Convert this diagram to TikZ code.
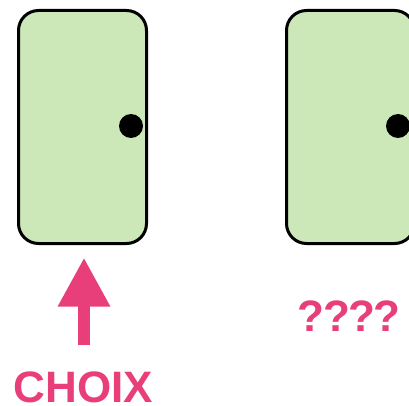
\documentclass[tikz,border=0pt]{standalone}
\usepackage{fontspec}
\setmainfont{Liberation Sans}
\usetikzlibrary{arrows.meta}
\definecolor{doorgreen}{RGB}{205,232,184}
\definecolor{pink}{RGB}{232,62,122}
\tikzset{
  door/.style={draw=black, line width=3pt, fill=doorgreen, rounded corners=20pt,
    minimum width=128pt, minimum height=233pt, inner sep=0pt},
  knob/.style={circle, fill=black, minimum size=24pt, inner sep=0pt},
  bigarrow/.style={draw=pink, line width=12pt, -{Triangle[width=49pt,length=49pt]}},
  label/.style={text=pink, font=\bfseries\fontsize{44}{44}\selectfont, inner sep=0pt, text depth=0pt}
}
\begin{document}
\begin{tikzpicture}[x=1pt,y=-1pt]
\useasboundingbox (0,0) rectangle (409,406);
\clip (0,0) rectangle (409,406);
\node[door] (d1) at (82.5,127) {};
\node[door] (d2) at (350.5,127) {};
\node[knob] (k1) at (131,126) {};
\node[knob] (k2) at (398,126) {};
\node[label, anchor=base west] (choix) at (13.5,402) {CHOIX};
\node[label, anchor=base, font=\bfseries\fontsize{44}{44}\selectfont\addfontfeature{LetterSpace=-4}] (q) at (349,331) {????};
\coordinate (abot) at (84,345);
\draw[bigarrow, shorten >=12.5pt] (abot) -- (abot |- d1.south);
\end{tikzpicture}
\end{document}
